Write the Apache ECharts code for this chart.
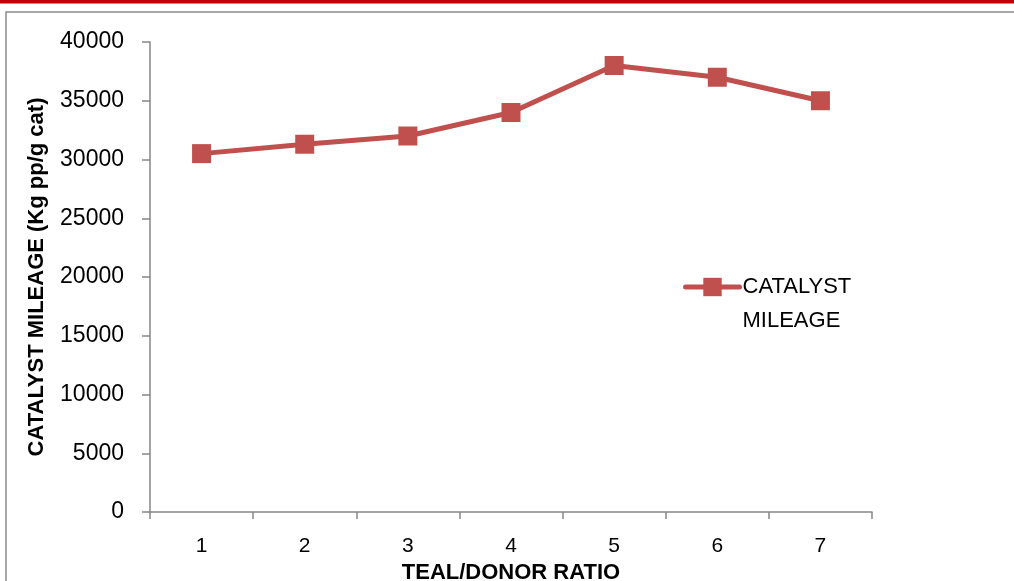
<!DOCTYPE html>
<html>
<head>
<meta charset="utf-8">
<script src="https://cdn.jsdelivr.net/npm/echarts@6/dist/echarts.min.js"></script>
<style>
  html, body { margin: 0; padding: 0; background: #ffffff; }
  #chart { width: 1014px; height: 581px; }
</style>
</head>
<body>
<div id="chart"></div>
<script>
// TEAL/donor ratio categories and measured catalyst mileage (kg PP per g catalyst)
const ratios = ['1', '2', '3', '4', '5', '6', '7'];
const mileage = [30500, 31300, 32000, 34000, 38000, 37000, 35000];
const seriesName = 'CATALYST MILEAGE';

const axisGray = '#868686';
const lineRed = '#c0504d';
const font = '"Liberation Sans", Arial, sans-serif';

const chart = echarts.init(document.getElementById('chart'), null, { renderer: 'canvas' });

chart.setOption({
  animation: false,
  backgroundColor: '#ffffff',
  graphic: [
    // red rule across the top of the page
    { type: 'rect', left: 0, top: 0, shape: { width: 1014, height: 3.5 }, style: { fill: '#c00000' }, silent: true },
    // chart frame
    { type: 'rect', shape: { x: 6, y: 12, width: 1030, height: 600 }, style: { fill: 'none', stroke: '#8a8a8a', lineWidth: 1.5 }, silent: true }
  ],
  grid: { left: 150, top: 42, width: 722, height: 470, containLabel: false, outerBoundsMode: 'none' },
  legend: {
    left: 683,
    top: 236,
    padding: 0,
    itemWidth: 54,
    itemHeight: 23,
    itemGap: 0,
    lineStyle: { width: 5, color: lineRed, cap: 'round' },
    itemStyle: { color: lineRed, borderWidth: 0 },
    formatter: () => ' \nCATALYST\nMILEAGE',
    textStyle: {
      fontFamily: font,
      fontSize: 22,
      color: '#000000',
      lineHeight: 34,
      padding: [0, 0, 0, -2]
    },
    data: [{ name: seriesName }]
  },
  xAxis: {
    type: 'category',
    data: ratios,
    boundaryGap: true,
    name: 'TEAL/DONOR RATIO',
    nameLocation: 'middle',
    nameGap: 47,
    nameTextStyle: { fontFamily: font, fontSize: 22, fontWeight: 'bold', color: '#000000' },
    axisLine: { lineStyle: { color: axisGray, width: 1.5 } },
    axisTick: { show: true, inside: false, length: 7, alignWithLabel: false, lineStyle: { color: axisGray, width: 1.5 } },
    axisLabel: { margin: 24, fontFamily: font, fontSize: 21, color: '#000000' },
    splitLine: { show: false }
  },
  yAxis: {
    type: 'value',
    min: 0,
    max: 40000,
    interval: 5000,
    name: 'CATALYST MILEAGE (Kg pp/g cat)',
    nameLocation: 'middle',
    nameGap: 102,
    nameTextStyle: { fontFamily: font, fontSize: 22, fontWeight: 'bold', color: '#000000' },
    axisLine: { show: true, lineStyle: { color: axisGray, width: 1.5 } },
    axisTick: { show: true, inside: false, length: 8, lineStyle: { color: axisGray, width: 1.5 } },
    axisLabel: { margin: 26, fontFamily: font, fontSize: 23, color: '#000000', formatter: (v) => String(v) },
    splitLine: { show: false }
  },
  series: [{
    name: seriesName,
    type: 'line',
    data: mileage,
    symbol: 'rect',
    symbolSize: 19,
    lineStyle: { color: lineRed, width: 5 },
    itemStyle: { color: lineRed, borderWidth: 0 }
  }]
});
</script>
</body>
</html>
